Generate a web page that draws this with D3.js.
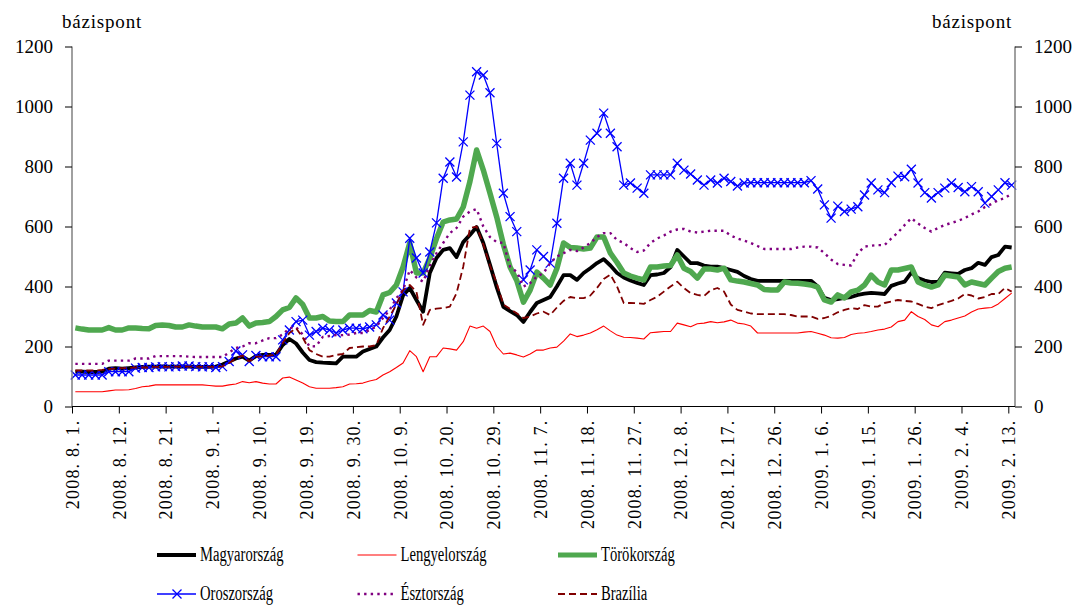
<!DOCTYPE html>
<html>
<head>
<meta charset="utf-8">
<script src="https://cdn.jsdelivr.net/npm/d3@7/dist/d3.min.js"></script>
<style>
  body { margin: 0; background: #fff; }
  text { font-family: "Liberation Serif", "DejaVu Serif", serif; fill: #000; }
</style>
</head>
<body>
<svg id="svg"></svg>
<script>
//data

let tickLabels = ["2008. 8. 1.", "2008. 8. 12.", "2008. 8. 21.", "2008. 9. 1.", "2008. 9. 10.", "2008. 9. 19.", "2008. 9. 30.",
  "2008. 10. 9.", "2008. 10. 20.", "2008. 10. 29.", "2008. 11. 7.", "2008. 11. 18.", "2008. 11. 27.", "2008. 12. 8.",
  "2008. 12. 17.", "2008. 12. 26.", "2009. 1. 6.", "2009. 1. 15.", "2009. 1. 26.", "2009. 2. 4.", "2009. 2. 13."];

let yTicks = [0, 200, 400, 600, 800, 1000, 1200];

let hungary = [116,116,115,115,116,126,128,126,128,130,
  132,133,133,134,133,133,134,133,132,132,
  132,133,140,150,160,166,153,168,172,172,
  172,205,225,210,180,155,148,146,145,144,
  166,166,166,183,192,200,230,255,300,370,
  395,355,316,445,495,522,528,498,548,572,
  598,545,472,398,332,318,305,282,315,345,
  355,365,400,438,438,422,445,461,478,491,
  470,445,430,420,412,405,438,440,445,465,
  522,500,478,478,470,466,466,461,455,449,
  435,425,419,419,419,419,419,419,419,419,
  419,400,362,355,358,362,365,372,376,379,
  377,375,402,410,416,446,428,420,415,415,
  446,444,442,455,461,479,472,498,505,533,
  530];

let poland = [49,49,49,49,49,52,55,55,56,60,
  66,68,72,72,72,72,72,72,72,72,
  70,68,68,72,75,83,79,83,78,75,
  75,95,98,88,78,66,61,61,61,63,
  66,75,76,78,85,90,105,116,130,145,
  186,166,116,166,166,195,192,188,216,268,
  261,268,250,200,175,178,172,165,175,188,
  188,195,198,218,242,233,238,245,256,268,
  252,238,231,230,228,225,246,248,250,250,
  278,272,266,276,278,283,279,282,288,278,
  275,268,245,245,245,245,245,245,245,248,
  250,244,238,229,228,230,240,244,246,250,
  255,258,265,283,288,316,300,290,272,266,
  283,288,295,302,315,325,328,330,342,360,
  378];

let turkey = [262,258,255,255,255,263,255,255,262,262,
  260,259,270,272,270,265,265,272,268,265,
  265,265,259,275,278,295,268,278,280,283,
  300,322,330,362,340,295,295,300,285,283,
  283,305,305,305,320,315,372,380,405,465,
  545,445,445,495,560,615,622,625,665,750,
  855,788,711,632,540,465,420,348,388,448,
  428,405,460,545,530,528,525,528,565,565,
  511,480,445,435,428,422,465,465,468,470,
  505,461,450,428,458,458,455,461,422,418,
  415,410,405,390,388,388,415,412,411,408,
  405,398,355,348,372,362,382,388,405,438,
  415,405,455,455,460,465,415,405,398,405,
  438,435,432,405,415,410,405,428,450,461,
  465];

let russia = [105,105,105,105,105,116,116,116,116,128,
  130,130,132,133,132,133,135,135,133,132,
  133,130,133,150,185,172,150,170,166,166,
  166,222,255,283,288,238,250,261,255,245,
  255,261,261,259,265,272,305,288,345,382,
  561,495,445,515,612,761,815,765,882,1038,
  1116,1105,1046,877,711,633,583,422,455,522,
  500,478,611,761,811,738,811,888,911,978,
  911,866,738,745,728,711,772,772,772,772,
  811,788,775,755,738,755,745,761,750,735,
  745,746,746,746,746,746,746,746,746,746,
  753,725,672,628,668,650,658,666,705,745,
  722,713,746,768,766,791,745,713,695,713,
  728,745,730,716,733,716,678,700,722,746,
  738];

let estonia = [142,142,142,142,142,153,153,153,153,160,
  160,160,168,168,168,168,168,166,165,165,
  165,165,165,180,195,200,211,211,220,228,
  228,240,261,265,240,200,201,232,235,238,
  238,240,245,245,255,266,295,322,361,388,
  455,430,416,470,511,545,578,595,633,650,
  658,600,565,548,545,466,449,400,411,433,
  445,478,500,511,522,518,530,545,565,578,
  578,555,545,528,515,520,545,560,570,583,
  590,592,583,580,583,586,586,586,570,560,
  553,545,535,525,525,525,525,525,530,533,
  533,530,511,490,475,472,470,511,533,536,
  538,538,560,580,605,628,610,595,583,595,
  605,612,619,628,640,650,665,675,688,695,
  710];

let brazil = [120,120,120,120,122,125,126,128,128,130,
  130,130,132,132,132,133,133,133,133,132,
  132,132,134,145,160,170,150,166,166,170,
  172,211,245,261,230,188,175,166,166,172,
  175,195,198,200,200,205,261,300,340,388,
  405,383,272,322,326,328,333,378,466,595,
  600,540,470,411,340,325,311,295,300,310,
  316,305,330,352,365,361,361,370,395,425,
  440,400,345,345,344,342,355,366,383,400,
  416,395,378,372,368,388,395,383,340,322,
  316,310,308,308,308,308,308,305,300,300,
  300,292,295,302,314,322,328,325,338,333,
  333,345,350,355,352,350,342,333,328,338,
  345,352,360,375,370,360,365,375,375,395,
  383];

let seriesNames = ["Magyarország", "Lengyelország", "Törökország", "Oroszország", "Észtország", "Brazília"];

//variables

let width = 1078;
let height = 606;
let plotLeft = 72;
let plotRight = 1015;
let plotTop = 46.5;
let plotBottom = 406.5;

let svg = d3.select("#svg");

let styles = [
  {color: "#000000", width: 3.8, dash: null},
  {color: "#ff0000", width: 1.1, dash: null},
  {color: "#4fa84f", width: 5.5, dash: null},
  {color: "#0000ff", width: 1.3, dash: null, marker: true},
  {color: "#800080", width: 2.4, dash: "2.4,4.2"},
  {color: "#800000", width: 1.8, dash: "7,4"}
];

let xScale;
let yScale;

//functions

let makeBackground = () => {
  svg.attr("width", width).attr("height", height);
  svg.append("rect").attr("width", width).attr("height", height).attr("fill", "#fff");
}

let scaleFunction = () => {
  xScale = d3.scaleLinear()
    .domain([0, hungary.length])
    .range([plotLeft, plotRight]);
  yScale = d3.scaleLinear()
    .domain([0, 1200])
    .range([plotBottom, plotTop]);
}

let makeAxes = () => {
  let yLeft = d3.axisLeft(yScale).tickValues(yTicks).tickSize(7).tickPadding(12).tickFormat(d3.format("d"));
  let yRight = d3.axisRight(yScale).tickValues(yTicks).tickSize(7).tickPadding(12).tickFormat(d3.format("d"));

  let gl = svg.append("g")
    .attr("transform", "translate(" + plotLeft + ", 0)")
    .call(yLeft);
  let gr = svg.append("g")
    .attr("transform", "translate(" + plotRight + ", 0)")
    .call(yRight);

  [gl, gr].forEach((g) => {
    g.select(".domain").attr("stroke", "#808080").attr("stroke-width", 1.5).attr("d", "M0," + plotBottom + "V" + plotTop);
    g.selectAll(".tick line").attr("stroke", "#000");
    g.selectAll(".tick text")
      .style("font-family", "'Liberation Serif', serif")
      .style("font-size", "19px")
      .attr("fill", "#000");
  });

  // x axis
  let xTicks = d3.range(tickLabels.length).map((k) => k * 7);
  let xAxis = d3.axisBottom(xScale)
    .tickValues(xTicks)
    .tickSize(7)
    .tickFormat((d, i) => tickLabels[i]);

  let gx = svg.append("g")
    .attr("transform", "translate(0, " + plotBottom + ")")
    .call(xAxis);
  gx.select(".domain").attr("stroke", "#000").attr("stroke-width", 1.2).attr("d", "M" + plotLeft + ",0H" + plotRight);
  gx.selectAll(".tick line").attr("stroke", "#000");
  gx.selectAll(".tick text")
    .attr("transform", "rotate(-90)")
    .attr("text-anchor", "end")
    .attr("x", -13)
    .attr("y", 0)
    .attr("dy", "0.35em")
    .style("font-family", "'Liberation Serif', serif")
    .style("font-size", "18px")
    .style("letter-spacing", "1.2px")
    .attr("fill", "#000");

  svg.append("text").attr("x", 62).attr("y", 28).text("bázispont")
    .style("font-size", "19px").style("letter-spacing", "0.8px");
  svg.append("text").attr("x", 932).attr("y", 28).text("bázispont")
    .style("font-size", "19px").style("letter-spacing", "0.8px");
}

let xMark = (g, x, y, c) => {
  let s = 4.5;
  g.append("path")
    .attr("d", "M" + (x - s) + "," + (y - s) + "L" + (x + s) + "," + (y + s) + "M" + (x - s) + "," + (y + s) + "L" + (x + s) + "," + (y - s))
    .attr("stroke", c)
    .attr("stroke-width", 1.3)
    .attr("fill", "none");
}

let makeGraph = () => {
  let all = [hungary, poland, turkey, russia, estonia, brazil];
  let line = d3.line()
    .x((d, i) => xScale(i + 0.5))
    .y((d) => yScale(d));

  all.forEach((data, k) => {
    let st = styles[k];
    svg.append("path")
      .datum(data)
      .attr("d", line)
      .attr("fill", "none")
      .attr("stroke", st.color)
      .attr("stroke-width", st.width)
      .attr("stroke-linejoin", "round")
      .attr("stroke-dasharray", st.dash);
    if (st.marker) {
      let gm = svg.append("g");
      data.forEach((d, i) => xMark(gm, xScale(i + 0.5), yScale(d), st.color));
    }
  });
}

let makeLegend = () => {
  seriesNames.forEach((name, k) => {
    let st = styles[k];
    let col = k % 3;
    let row = Math.floor(k / 3);
    let x0 = 157 + col * 200.5;
    let y0 = 555 + row * 39;
    let g = svg.append("g");
    g.append("line")
      .attr("x1", x0).attr("x2", x0 + 39)
      .attr("y1", y0).attr("y2", y0)
      .attr("stroke", st.color)
      .attr("stroke-width", k == 2 ? 5 : st.width)
      .attr("stroke-dasharray", st.dash);
    if (st.marker) {
      xMark(g, x0 + 20, y0, st.color);
    }
    let t = g.append("text")
      .attr("x", x0 + 43)
      .attr("y", y0 + 6)
      .style("font-size", "20px")
      .text(name);
    // the original face is a narrow serif, so squeeze the text a bit
    let w = t.node().getComputedTextLength();
    t.attr("textLength", w * 0.73).attr("lengthAdjust", "spacingAndGlyphs");
  });
}

makeBackground();
scaleFunction();
makeGraph();
makeAxes();
makeLegend();
</script>
</body>
</html>
